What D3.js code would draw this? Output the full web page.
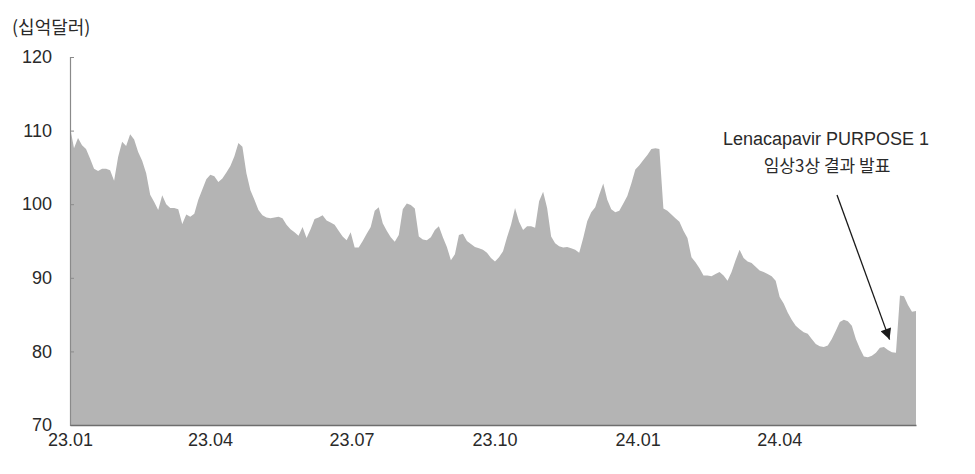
<!DOCTYPE html>
<html><head><meta charset="utf-8">
<script src="https://cdn.jsdelivr.net/npm/d3@7"></script>
<style>
html,body{margin:0;padding:0;background:#fff;}
svg{display:block;}
text{font-family:"Liberation Sans","Noto Sans CJK KR",sans-serif;fill:#2a2a2a;}
</style></head>
<body><svg id="c" width="975" height="474"></svg>
<script>
// Market cap (USD bn), evenly sampled from sampleStart to sampleEnd
const sampleStart = "2023-01-01";
const sampleEnd = "2024-06-28";
const values = [
110.5,107.6,109.0,108.0,107.5,106.2,104.8,104.5,104.8,104.8,
104.6,103.2,106.4,108.5,107.9,109.5,108.8,107.1,105.9,104.2,
101.3,100.3,99.2,101.2,100.0,99.5,99.5,99.3,97.3,98.6,
98.3,98.7,100.6,102.0,103.4,104.0,103.8,103.0,103.5,104.3,
105.2,106.5,108.3,107.8,104.2,101.9,100.6,99.2,98.5,98.2,
98.1,98.2,98.3,98.1,97.2,96.6,96.2,95.7,96.9,95.4,
96.6,98.0,98.2,98.5,97.8,97.5,97.2,96.4,95.6,95.1,
96.2,94.1,94.1,95.0,96.0,96.9,99.1,99.6,97.4,96.4,
95.5,94.9,95.8,99.3,100.1,99.9,99.4,95.6,95.2,95.1,
95.5,96.5,97.0,95.5,94.2,92.4,93.2,95.8,96.0,95.0,
94.6,94.2,94.0,93.8,93.4,92.7,92.2,92.8,93.6,95.5,
97.2,99.5,97.6,96.5,97.0,97.0,96.8,100.4,101.7,99.5,
95.6,94.7,94.3,94.1,94.2,94.0,93.8,93.4,95.4,97.7,
98.9,99.6,101.3,102.8,100.6,99.3,98.9,99.1,100.1,101.1,
102.8,104.7,105.3,106.0,106.7,107.5,107.6,107.5,99.4,99.1,
98.6,98.1,97.6,96.4,95.4,92.8,92.1,91.3,90.3,90.3,
90.2,90.5,90.8,90.3,89.6,90.8,92.4,93.8,92.7,92.2,
92.0,91.5,91.0,90.8,90.5,90.2,89.6,87.4,86.5,85.3,
84.3,83.5,83.0,82.6,82.4,81.7,81.0,80.7,80.6,80.8,
81.7,82.8,84.0,84.3,84.1,83.5,81.7,80.4,79.3,79.2,
79.4,79.8,80.5,80.6,80.2,79.9,79.8,87.6,87.5,86.3,
85.4,85.5
];
const yTicks = [70, 80, 90, 100, 110, 120];
const xTickDates = ["2023-01-01","2023-04-01","2023-07-01","2023-10-01","2024-01-01","2024-04-01"];
const xTickLabels = ["23.01","23.04","23.07","23.10","24.01","24.04"];
const unitLabel = "(십억달러)";
const annotationLines = ["Lenacapavir PURPOSE 1", "임상3상 결과 발표"];
const annotationDate = "2024-06-11";
const annotationValue = 81.6;

const parse = d3.timeParse("%Y-%m-%d");
const t0 = parse(sampleStart), t1 = parse(sampleEnd);
const data = values.map((v, i) => ({
  date: new Date(+t0 + (t1 - t0) * i / (values.length - 1)),
  value: v
}));

const svg = d3.select("#c");
const x = d3.scaleTime().domain([t0, t1]).range([70, 916]);
const y = d3.scaleLinear().domain([70, 120]).range([425, 57]);

// area
const area = d3.area().x(d => x(d.date)).y0(y(70)).y1(d => y(d.value)).curve(d3.curveLinear);
svg.append("path").datum(data).attr("d", area).attr("fill", "#b4b4b4");

// y axis
const yAxis = d3.axisLeft(y).tickValues(yTicks).tickSize(-4).tickPadding(18);
const gy = svg.append("g").attr("transform", "translate(70,0)").call(yAxis);
gy.select(".domain").attr("stroke", "#8a8a8a").attr("stroke-width", 1.2);
gy.selectAll(".tick line").attr("stroke", "#8a8a8a");
gy.selectAll(".tick text").attr("font-size", 18).attr("fill", "#2a2a2a")
  .style("font-family", '"Liberation Sans", sans-serif');

// x axis
const xAxis = d3.axisBottom(x).tickValues(xTickDates.map(parse))
  .tickFormat((d, i) => xTickLabels[i]).tickSize(0).tickPadding(8).tickSizeOuter(0);
const gx = svg.append("g").attr("transform", "translate(0,425)").call(xAxis);
gx.select(".domain").attr("stroke", "#6e6e6e").attr("stroke-width", 1.5);
gx.selectAll(".tick text").attr("font-size", 18).attr("fill", "#2a2a2a")
  .style("font-family", '"Liberation Sans", sans-serif');

// unit label
svg.append("text").attr("x", 12).attr("y", 34).attr("font-size", 18)
  .style("font-family", '"Noto Sans CJK KR", sans-serif').text(unitLabel);

// annotation
svg.append("text").attr("x", 826).attr("y", 145).attr("text-anchor", "middle")
  .attr("font-size", 18).style("font-family", '"Liberation Sans","Noto Sans CJK KR", sans-serif')
  .text(annotationLines[0]);
svg.append("text").attr("x", 827).attr("y", 172).attr("text-anchor", "middle")
  .attr("font-size", 17).style("font-family", '"Noto Sans CJK KR", sans-serif')
  .text(annotationLines[1]);

svg.append("defs").append("marker").attr("id", "arr")
  .attr("viewBox", "0 0 10 10").attr("refX", 10).attr("refY", 5)
  .attr("markerWidth", 13).attr("markerHeight", 11).attr("markerUnits", "userSpaceOnUse")
  .attr("orient", "auto")
  .append("path").attr("d", "M0,0 L10,5 L0,10 Z").attr("fill", "#1a1a1a");
const ax = x(parse(annotationDate)), ay = y(annotationValue);
svg.append("line").attr("x1", 837).attr("y1", 195).attr("x2", ax).attr("y2", ay)
  .attr("stroke", "#1a1a1a").attr("stroke-width", 1.3).attr("marker-end", "url(#arr)");
</script></body></html>
